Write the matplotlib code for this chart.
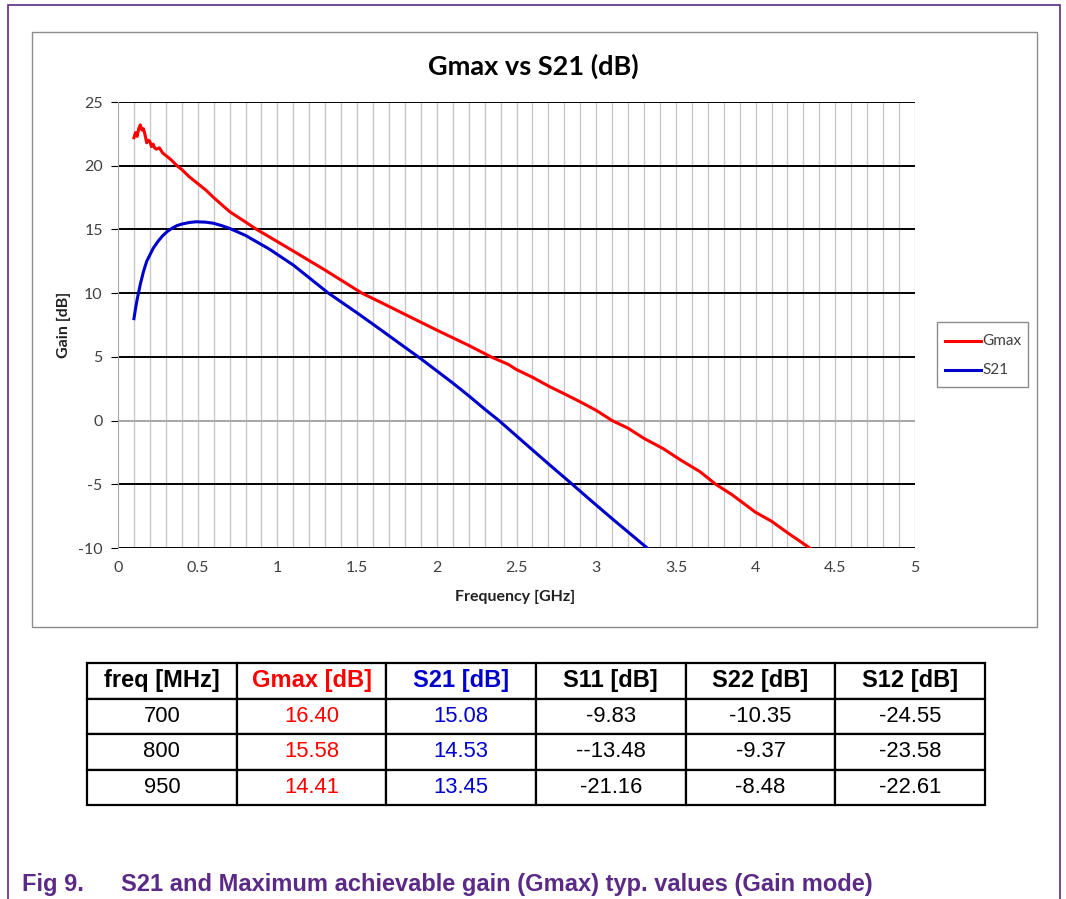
import matplotlib
matplotlib.use("Agg")
import matplotlib.pyplot as plt
from matplotlib.patches import Rectangle
from matplotlib.lines import Line2D

plt.rcParams["axes.unicode_minus"] = False

# data
gmax_f = [0.10, 0.11, 0.12, 0.13, 0.14, 0.15, 0.16, 0.17, 0.18, 0.19, 0.20, 0.21,
          0.22, 0.23, 0.24, 0.26, 0.28, 0.30, 0.33, 0.37, 0.40, 0.45, 0.50, 0.55,
          0.60, 0.70, 0.80, 0.87, 0.95, 1.10, 1.30, 1.53, 1.64, 1.83, 2.00, 2.20,
          2.34, 2.45, 2.50, 2.60, 2.71, 2.80, 2.90, 3.00, 3.10, 3.20, 3.30, 3.42,
          3.53, 3.65, 3.75, 3.85, 4.00, 4.10, 4.20, 4.34]
gmax_db = [22.2, 22.6, 22.3, 22.9, 23.2, 22.8, 22.9, 22.4, 21.8, 22.0, 21.9, 21.5,
           21.7, 21.4, 21.3, 21.4, 21.0, 20.8, 20.5, 20.0, 19.7, 19.1, 18.6, 18.1,
           17.5, 16.40, 15.58, 15.0, 14.41, 13.3, 11.8, 10.0, 9.33, 8.15, 7.1, 5.9,
           5.0, 4.4, 4.0, 3.4, 2.65, 2.1, 1.47, 0.8, 0.0, -0.6, -1.4, -2.2,
           -3.1, -4.0, -5.0, -5.8, -7.2, -7.9, -8.8, -10.0]

s21_f = [0.10, 0.11, 0.12, 0.13, 0.14, 0.16, 0.18, 0.20, 0.22, 0.25, 0.28, 0.31,
         0.34, 0.37, 0.40, 0.45, 0.49, 0.55, 0.60, 0.65, 0.70, 0.80, 0.95, 1.10,
         1.32, 1.50, 1.64, 1.80, 1.90, 2.00, 2.10, 2.20, 2.30, 2.39, 2.60, 2.71,
         2.85, 2.96, 3.10, 3.32]
s21_db = [8.0, 8.8, 9.5, 10.1, 10.7, 11.7, 12.5, 13.0, 13.5, 14.05, 14.5, 14.85,
          15.1, 15.3, 15.42, 15.55, 15.6, 15.57, 15.48, 15.3, 15.08, 14.53, 13.45, 12.2,
          10.0, 8.45, 7.2, 5.75, 4.85, 3.9, 2.95, 1.95, 0.9, 0.0, -2.3, -3.5,
          -5.0, -6.2, -7.7, -10.0]

col_labels = ["freq [MHz]", "Gmax [dB]", "S21 [dB]", "S11 [dB]", "S22 [dB]", "S12 [dB]"]
freq_mhz = ["700", "800", "950"]
tab_gmax = ["16.40", "15.58", "14.41"]
tab_s21 = ["15.08", "14.53", "13.45"]
tab_s11 = ["-9.83", "--13.48", "-21.16"]
tab_s22 = ["-10.35", "-9.37", "-8.48"]
tab_s12 = ["-24.55", "-23.58", "-22.61"]

W, H = 1066, 899
purple = "#5b2a86"
txt_gray = "#404040"

fig = plt.figure(figsize=(W / 100, H / 100), dpi=100)

def fx(px):
    return px / W

def fy(py):
    return 1 - py / H

# outer frame and chart area border
fig.patches.append(Rectangle((fx(8), fy(905)), fx(1052), fy(5) - fy(905), transform=fig.transFigure,
                             fill=False, edgecolor=purple, lw=1.2))
fig.patches.append(Rectangle((fx(32), fy(627)), fx(1005), fy(32) - fy(627), transform=fig.transFigure,
                             fill=False, edgecolor="#8c8c8c", lw=1.0))

ax = fig.add_axes([fx(118), fy(548), fx(915) - fx(118), fy(102) - fy(548)])
ax.set_xlim(0, 5)
ax.set_ylim(-10, 25)

# vertical gridlines every 0.1 GHz
for i in range(1, 51):
    ax.axvline(i / 10, color="#c8c8c8", lw=1.0, zorder=1)
for yv in range(-10, 30, 5):
    ax.axhline(yv, color="#a6a6a6" if yv == 0 else "black", lw=1.4, zorder=2)

ax.plot(gmax_f, gmax_db, color="#ff0000", lw=2.2, zorder=4)
ax.plot(s21_f, s21_db, color="#0000cc", lw=2.2, zorder=4)

for s in ["top", "right", "bottom"]:
    ax.spines[s].set_visible(False)
ax.spines["left"].set_color("#a6a6a6")
ax.set_yticks(range(-10, 30, 5))
ax.set_xticks([0, 0.5, 1, 1.5, 2, 2.5, 3, 3.5, 4, 4.5, 5])
ax.set_xticklabels(["0", "0.5", "1", "1.5", "2", "2.5", "3", "3.5", "4", "4.5", "5"])
ax.tick_params(axis="y", length=5, color="black", labelsize=11.5, labelcolor=txt_gray, pad=6)
ax.tick_params(axis="x", length=0, labelsize=11.5, labelcolor=txt_gray, pad=9)
for lab in ax.get_xticklabels() + ax.get_yticklabels():
    lab.set_family("Lato")

fig.text(fx(515), fy(597), "Frequency [GHz]", ha="center", va="center", fontsize=11.5,
         fontweight="bold", family="Lato", color="#222222")
fig.text(fx(64), fy(325), "Gain [dB]", ha="center", va="center", rotation=90, fontsize=11.5,
         fontweight="bold", family="Lato", color="#222222")
fig.text(fx(533), fy(66), "Gmax vs S21 (dB)", ha="center", va="center", fontsize=19.5,
         fontweight="bold", family="Lato", color="black")

# legend
fig.patches.append(Rectangle((fx(937), fy(387)), fx(91), fy(322) - fy(387), transform=fig.transFigure,
                             fill=False, edgecolor="#8c8c8c", lw=1.0))
for py, name, c in [(341, "Gmax", "#ff0000"), (370, "S21", "#0000cc")]:
    fig.lines.append(Line2D([fx(945), fx(981)], [fy(py), fy(py)], transform=fig.transFigure,
                            color=c, lw=2.2))
    fig.text(fx(982), fy(py), name, ha="left", va="center", fontsize=11, family="Lato",
             color=txt_gray)

# table
tax = fig.add_axes([fx(87), fy(805), fx(985) - fx(87), fy(663) - fy(805)])
tax.axis("off")
rows = [list(r) for r in zip(freq_mhz, tab_gmax, tab_s21, tab_s11, tab_s22, tab_s12)]
tbl = tax.table(cellText=rows, colLabels=col_labels, cellLoc="center", bbox=[0, 0, 1, 1])
tbl.auto_set_font_size(False)
col_colors = ["black", "#ff0000", "#0000cc", "black", "black", "black"]
for (r, c), cell in tbl.get_celld().items():
    cell.set_edgecolor("black")
    cell.set_linewidth(1.6)
    t = cell.get_text()
    t.set_fontsize(17 if r == 0 else 15.8)
    t.set_family("Liberation Sans")
    t.set_color(col_colors[c])
    if r == 0:
        t.set_fontweight("bold")

# caption
fig.text(fx(22), fy(884), "Fig 9.", ha="left", va="center", fontsize=17, fontweight="bold",
         family="Liberation Sans", color=purple)
fig.text(fx(121), fy(884), "S21 and Maximum achievable gain (Gmax) typ. values (Gain mode)",
         ha="left", va="center", fontsize=17, fontweight="bold", family="Liberation Sans",
         color=purple)

fig.savefig("out.png", dpi=100)
